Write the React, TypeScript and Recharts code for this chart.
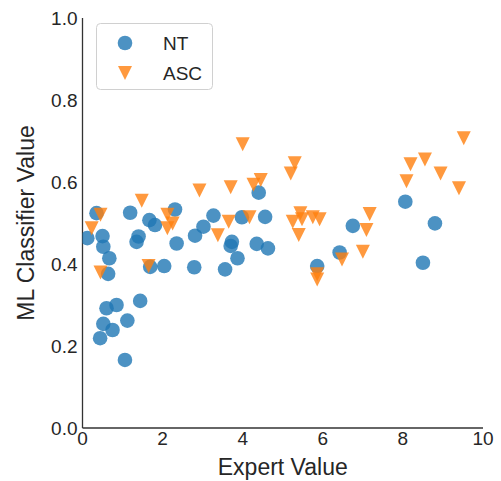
import { ScatterChart, Scatter, XAxis, YAxis, Label } from "recharts";

const ntExpert = [
  0.12, 0.35, 0.5, 0.52, 0.67, 0.64, 1.19, 1.67, 1.81, 2.31, 1.4, 1.35, 2.35, 2.81,
  3.02, 3.27, 1.69, 2.04, 2.79, 3.56, 0.6, 0.85, 1.44, 0.52, 0.75, 1.12, 0.44, 1.06,
  4.4, 3.98, 4.56, 3.73, 3.7, 4.35, 4.63, 3.87, 5.86, 6.42, 6.75, 8.06, 8.8, 8.5,
];
const ntML = [
  0.463, 0.524, 0.468, 0.442, 0.414, 0.376, 0.525, 0.507, 0.495, 0.533, 0.467, 0.454,
  0.45, 0.469, 0.491, 0.518, 0.393, 0.395, 0.392, 0.387, 0.292, 0.3, 0.31, 0.254,
  0.239, 0.262, 0.219, 0.166, 0.574, 0.514, 0.515, 0.454, 0.444, 0.449, 0.438, 0.414,
  0.395, 0.428, 0.493, 0.552, 0.499, 0.403,
];

const ascExpert = [
  0.45, 0.23, 1.48, 2.92, 2.12, 2.25, 2.12, 0.45, 1.65, 3.38, 4.0, 5.3, 5.2, 4.45,
  4.27, 3.7, 3.65, 4.17, 5.44, 5.25, 5.48, 5.75, 5.92, 5.4, 6.48, 5.86, 5.86, 9.52,
  8.55, 8.19, 8.94, 8.09, 9.4, 7.17, 7.09, 7.0,
];
const ascML = [
  0.52, 0.487, 0.554, 0.579, 0.52, 0.499, 0.487, 0.379, 0.395, 0.47, 0.692, 0.646,
  0.621, 0.605, 0.593, 0.587, 0.503, 0.514, 0.524, 0.503, 0.509, 0.514, 0.509, 0.471,
  0.411, 0.375, 0.362, 0.707, 0.655, 0.643, 0.621, 0.602, 0.585, 0.522, 0.483, 0.43,
];

const xTicks = [0, 2, 4, 6, 8, 10];
const yTicks = [0, 0.2, 0.4, 0.6, 0.8, 1.0];

const ntData = ntExpert.map((x, i) => ({ x, y: ntML[i] }));
const ascData = ascExpert.map((x, i) => ({ x, y: ascML[i] }));

const BLUE = "#1f77b4";
const ORANGE = "#ff7f0e";
const INK = "#262626";
const FONT = "'Liberation Sans', Arial, sans-serif";

const Dot = (p: any) => (
  <circle cx={p.cx} cy={p.cy} r={7.3} fill={BLUE} fillOpacity={0.8} />
);

const Tri = (p: any) => {
  const h = 7;
  return (
    <path
      d={`M${p.cx - h},${p.cy - h}L${p.cx + h},${p.cy - h}L${p.cx},${p.cy + h}Z`}
      fill={ORANGE}
      fillOpacity={0.8}
    />
  );
};

function LegendBox() {
  return (
    <svg width={118} height={68} style={{ display: "block" }}>
      <rect x={0.5} y={0.5} width={116} height={66} rx={4} fill="#fff" stroke="#d0d0d0" />
      <circle cx={29} cy={20} r={7.3} fill={BLUE} fillOpacity={0.8} />
      <path d="M22,43L36,43L29,57Z" fill={ORANGE} fillOpacity={0.8} />
      <text x={67} y={27} fontSize={19} fill={INK} fontFamily={FONT}>NT</text>
      <text x={67} y={57} fontSize={19} fill={INK} fontFamily={FONT}>ASC</text>
    </svg>
  );
}

export default function App() {
  return (
    <div style={{ position: "absolute", left: 0, top: 0, width: 501, height: 481, fontFamily: FONT }}>
      <ScatterChart width={501} height={481} margin={{ top: 18, right: 18, bottom: 0, left: 0 }}>
        <XAxis
          type="number"
          dataKey="x"
          domain={[0, 10]}
          ticks={xTicks}
          tickSize={0}
          tickMargin={4}
          height={53}
          axisLine={{ stroke: "#333", strokeWidth: 1.3 }}
          tick={{ fill: INK, fontSize: 19, fontFamily: FONT }}
          allowDataOverflow
        >
          <Label value="Expert Value" position="insideBottom" offset={6} style={{ fill: INK, fontSize: 23, fontFamily: FONT }} />
        </XAxis>
        <YAxis
          type="number"
          dataKey="y"
          domain={[0, 1]}
          ticks={yTicks}
          tickFormatter={(v: number) => v.toFixed(1)}
          tickSize={0}
          tickMargin={5}
          width={82.5}
          axisLine={{ stroke: "#333", strokeWidth: 1.3 }}
          tick={{ fill: INK, fontSize: 19, fontFamily: FONT }}
          allowDataOverflow
        >
          <Label value="ML Classifier Value" angle={-90} position="insideLeft" offset={26} style={{ textAnchor: "middle", fill: INK, fontSize: 23, fontFamily: FONT }} />
        </YAxis>
        <Scatter name="NT" data={ntData} shape={Dot} isAnimationActive={false} />
        <Scatter name="ASC" data={ascData} shape={Tri} isAnimationActive={false} />
      </ScatterChart>
      <div style={{ position: "absolute", left: 96, top: 23 }}>
        <LegendBox />
      </div>
    </div>
  );
}
